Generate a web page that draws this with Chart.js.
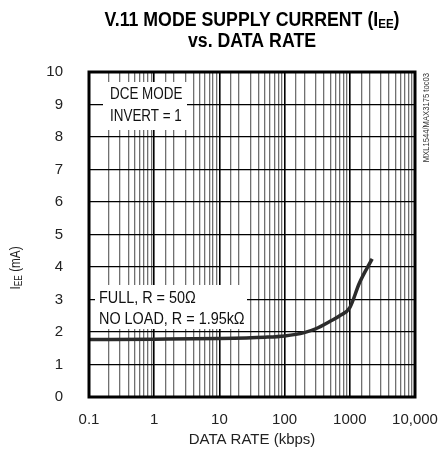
<!DOCTYPE html>
<html lang="en">
<head>
  <meta charset="UTF-8">
  <title>V.11 Mode Supply Current vs. Data Rate</title>
  <script src="https://cdn.jsdelivr.net/npm/chart.js"></script>
  <style>
    html, body { margin: 0; padding: 0; background: #fff; }
    #wrap { width: 439px; height: 458px; }
  </style>
</head>
<body>
  <div id="wrap"><canvas id="chart" width="439" height="458"></canvas></div>

  <script>
    // values (data rate in kbps, supply current in mA)
    const dataRate = [0.1, 1, 10, 50, 100, 200, 300, 500, 700, 1000, 1400, 2200];
    const supplyCurrent = [1.77, 1.78, 1.80, 1.84, 1.88, 1.98, 2.1, 2.33, 2.5, 2.75, 3.5, 4.25];

    const xTickValues = [0.1, 1, 10, 100, 1000, 10000];
    const xTickLabels = ['0.1', '1', '10', '100', '1000', '10,000'];

    const FONT = "'Liberation Sans', Arial, sans-serif";
    const NARROW = 0.84; // horizontal squeeze for the hand drawn labels

    function isDecade(v) {
      const l = Math.log10(v);
      return Math.abs(l - Math.round(l)) < 1e-6;
    }

    function labelFor(v) {
      const i = xTickValues.findIndex(t => Math.abs(Math.log10(t) - Math.log10(v)) < 1e-6);
      return i >= 0 ? xTickLabels[i] : '';
    }

    function partsWidth(ctx, parts) {
      let w = 0;
      parts.forEach(p => { ctx.font = p.font; w += ctx.measureText(p.text).width; });
      return w;
    }

    // draw a run of text pieces (for subscripts), squeezed by sx, starting at x
    function drawParts(ctx, parts, x, y, sx) {
      ctx.save();
      ctx.translate(x, y);
      ctx.scale(sx, 1);
      let cx = 0;
      parts.forEach(p => {
        ctx.font = p.font;
        ctx.fillText(p.text, cx, p.dy || 0);
        cx += ctx.measureText(p.text).width;
      });
      ctx.restore();
    }

    const decorations = {
      id: 'decorations',
      afterDatasetsDraw(chart) {
        const ctx = chart.ctx;
        const a = chart.chartArea;
        ctx.save();

        // plot frame
        ctx.strokeStyle = '#000';
        ctx.lineWidth = 3;
        ctx.strokeRect(a.left, a.top, a.right - a.left, a.bottom - a.top);

        // label boxes
        ctx.fillStyle = '#fff';
        ctx.fillRect(a.left + 14, a.top + 10, 84, 48);
        ctx.fillRect(a.left + 6, a.top + 213, 152, 44);

        ctx.fillStyle = '#111';
        ctx.textBaseline = 'middle';
        ctx.textAlign = 'left';
        const f16 = '16px ' + FONT;
        drawParts(ctx, [{ text: 'DCE MODE', font: f16 }], a.left + 21, a.top + 23, NARROW);
        drawParts(ctx, [{ text: 'INVERT = 1', font: f16 }], a.left + 21, a.top + 45, NARROW);
        drawParts(ctx, [{ text: 'FULL, R = 50\u03A9', font: f16 }], a.left + 10, a.top + 227, 0.9);
        drawParts(ctx, [{ text: 'NO LOAD, R = 1.95k\u03A9', font: f16 }], a.left + 10, a.top + 248, 0.9);

        // title (bold condensed, two lines)
        const cx = (a.left + a.right) / 2;
        const line1 = [
          { text: 'V.11 MODE SUPPLY CURRENT (I', font: 'bold 20px ' + FONT },
          { text: 'EE', font: 'bold 13px ' + FONT, dy: 4 },
          { text: ')', font: 'bold 20px ' + FONT }
        ];
        const line2 = [{ text: 'vs. DATA RATE', font: 'bold 20px ' + FONT }];
        const sx = 295 / partsWidth(ctx, line1);
        ctx.fillStyle = '#000';
        [[line1, 20], [line2, 41]].forEach(([parts, y]) => {
          const w = partsWidth(ctx, parts) * sx;
          drawParts(ctx, parts, cx - w / 2, y, sx);
        });

        // y axis title with subscript
        const yParts = [
          { text: 'I', font: '14px ' + FONT },
          { text: 'EE', font: '10px ' + FONT, dy: 3 },
          { text: ' (mA)', font: '14px ' + FONT }
        ];
        ctx.save();
        ctx.translate(16, 268);
        ctx.rotate(-Math.PI / 2);
        ctx.fillStyle = '#222';
        const yw = partsWidth(ctx, yParts) * NARROW;
        drawParts(ctx, yParts, -yw / 2, 0, NARROW);
        ctx.restore();

        // figure id on the right
        ctx.save();
        ctx.translate(a.right + 12, a.top + 1);
        ctx.rotate(-Math.PI / 2);
        ctx.fillStyle = '#333';
        const idParts = [{ text: 'MXL1544/MAX3175 toc03', font: '9px ' + FONT }];
        const iw = partsWidth(ctx, idParts) * 0.85;
        drawParts(ctx, idParts, -iw, 0, 0.85);
        ctx.restore();

        ctx.restore();
      }
    };

    new Chart(document.getElementById('chart'), {
      type: 'line',
      data: {
        datasets: [{
          label: 'IEE',
          data: dataRate.map((r, i) => ({ x: r, y: supplyCurrent[i] })),
          borderColor: '#2b2b2b',
          borderWidth: 3.5,
          pointRadius: 0,
          cubicInterpolationMode: 'monotone',
          fill: false
        }]
      },
      options: {
        responsive: false,
        animation: false,
        devicePixelRatio: 1,
        layout: { padding: { top: 72, right: 24, left: 0, bottom: 0 } },
        plugins: {
          legend: { display: false },
          tooltip: { enabled: false }
        },
        scales: {
          x: {
            type: 'logarithmic',
            min: 0.1,
            max: 10000,
            afterFit: s => { s.height = 61; s.paddingLeft = 0; s.paddingRight = 0; },
            border: { display: false },
            grid: {
              drawTicks: false,
              color: c => (c.tick && isDecade(c.tick.value)) ? '#000' : '#707070',
              lineWidth: c => (c.tick && isDecade(c.tick.value)) ? 1.6 : 1.3
            },
            ticks: {
              autoSkip: false,
              maxRotation: 0,
              padding: 14,
              color: '#222',
              font: { family: FONT, size: 15 },
              callback: v => labelFor(v)
            },
            title: {
              display: true,
              text: 'DATA RATE (kbps)',
              color: '#222',
              font: { family: FONT, size: 15 },
              padding: { top: 0, bottom: 9 }
            }
          },
          y: {
            min: 0,
            max: 10,
            afterFit: s => { s.width = 89; s.paddingTop = 0; s.paddingBottom = 0; },
            border: { display: false },
            grid: { drawTicks: false, color: '#000', lineWidth: 1.3 },
            ticks: {
              stepSize: 1,
              padding: 26,
              color: '#222',
              font: { family: FONT, size: 15 }
            }
          }
        }
      },
      plugins: [decorations]
    });
  </script>
</body>
</html>
